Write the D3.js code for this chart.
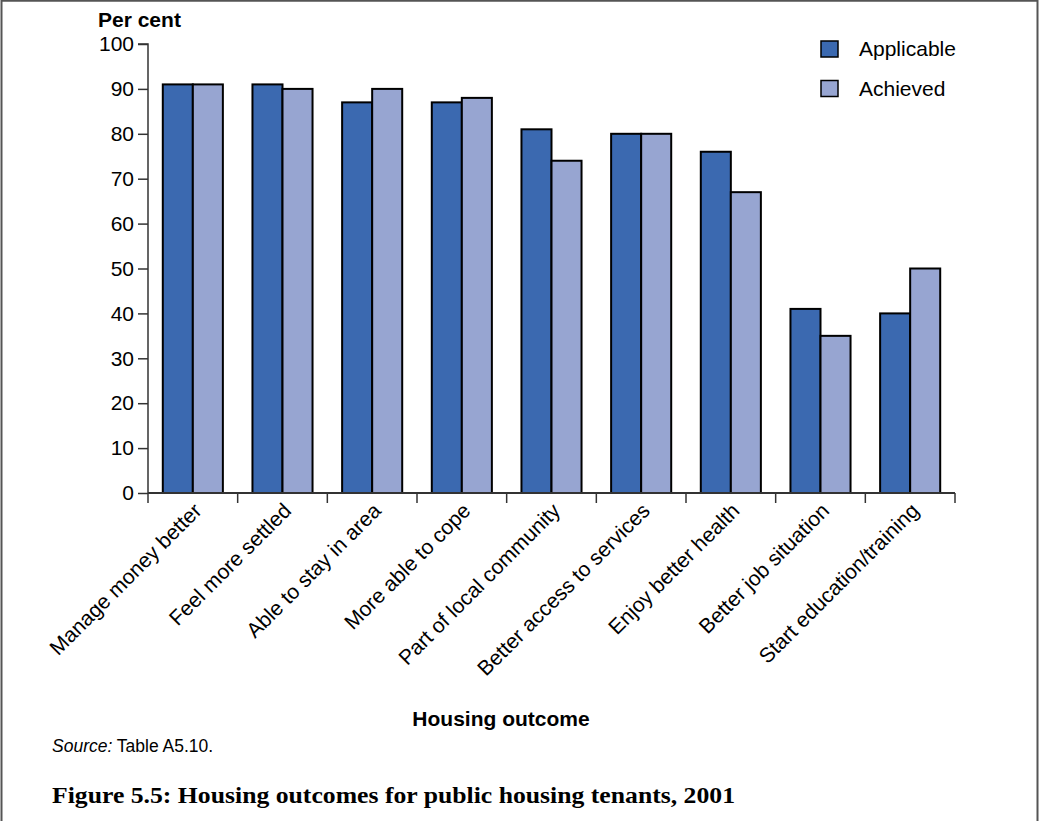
<!DOCTYPE html>
<html><head><meta charset="utf-8">
<script src="https://cdn.jsdelivr.net/npm/d3@7"></script>
<style>body{margin:0;background:#fff}svg{display:block}</style>
</head><body>
<script>
const categories = ["Manage money better","Feel more settled","Able to stay in area","More able to cope","Part of local community","Better access to services","Enjoy better health","Better job situation","Start education/training"];
const seriesNames = ["Applicable","Achieved"];
const applicable = [91,91,87,87,81,80,76,41,40];
const achieved = [91,90,90,88,74,80,67,35,50];
const yTicks = [0,10,20,30,40,50,60,70,80,90,100];
const colors = ["#3b69b0","#97a5d1"];

const W=1040,H=821;
const F="Liberation Sans, Arial, sans-serif";
const svg=d3.select("body").append("svg").attr("width",W).attr("height",H);
// frame
svg.append("path").attr("d","M1.5,821 V0.75 H1037.5 V821").attr("fill","none").attr("stroke","#555").attr("stroke-width",2);

const x0=148,x1=955,yb=493,yt=44;
const x=d3.scaleBand().domain(categories).range([x0,x1]).paddingInner(0.33).paddingOuter(0.165);
const xs=d3.scaleBand().domain(seriesNames).range([0,x.bandwidth()]);
const y=d3.scaleLinear().domain([0,100]).range([yb,yt]);

const data=categories.map((c,i)=>({c,vals:[applicable[i],achieved[i]]}));
const g=svg.append("g");
data.forEach(d=>{
  d.vals.forEach((v,j)=>{
    g.append("rect").attr("x",x(d.c)+xs(seriesNames[j])).attr("y",y(v))
     .attr("width",xs.bandwidth()).attr("height",y(0)-y(v))
     .attr("fill",colors[j]).attr("stroke","#000").attr("stroke-width",2);
  });
});

// y axis
const ya=d3.axisLeft(y).tickValues(yTicks).tickSize(10).tickPadding(4);
const yg=svg.append("g").attr("transform",`translate(${x0},0)`).call(ya);
yg.select(".domain").attr("stroke","#333").attr("stroke-width",1.5).attr("d",`M-10,${yt}H0V${yb}`);
yg.selectAll(".tick line").attr("stroke","#333").attr("stroke-width",1.5);
yg.selectAll(".tick text").attr("font-family",F).attr("font-size",21).attr("fill","#000");

// x axis
const xg=svg.append("g").attr("transform",`translate(0,${yb})`);
xg.append("line").attr("x1",x0).attr("x2",x1).attr("stroke","#333").attr("stroke-width",2);
const tickPos=categories.map(c=>x(c)-x.step()*x.paddingInner()/2);
tickPos.push(x1);
xg.selectAll(".xt").data(tickPos).enter().append("line").attr("x1",d=>d).attr("x2",d=>d).attr("y1",0).attr("y2",10).attr("stroke","#333").attr("stroke-width",1.5);
xg.selectAll(".xl").data(categories).enter().append("text")
  .attr("transform",d=>`translate(${x(d)+x.bandwidth()/2+10},${19}) rotate(-45)`)
  .attr("text-anchor","end").attr("font-family",F).attr("font-size",21).text(d=>d);

// titles
svg.append("text").attr("x",98).attr("y",27).attr("font-family",F).attr("font-weight","bold").attr("font-size",21).text("Per cent");
svg.append("text").attr("x",501).attr("y",726).attr("text-anchor","middle").attr("font-family",F).attr("font-weight","bold").attr("font-size",21).text("Housing outcome");

// legend
seriesNames.forEach((s,i)=>{
  svg.append("rect").attr("x",821).attr("y",41+i*39.5).attr("width",17).attr("height",16).attr("fill",colors[i]).attr("stroke","#000").attr("stroke-width",1.5);
  svg.append("text").attr("x",859).attr("y",56+i*39.5).attr("font-family",F).attr("font-size",21).text(s);
});

// source
const src=svg.append("text").attr("x",52).attr("y",752).attr("font-family",F).attr("font-size",17.5);
src.append("tspan").attr("font-style","italic").text("Source:");
src.append("tspan").text(" Table A5.10.");

svg.append("text").attr("x",52).attr("y",803).attr("font-family","Liberation Serif, Times New Roman, serif").attr("font-weight","bold").attr("font-size",24).attr("textLength",683).attr("lengthAdjust","spacingAndGlyphs").text("Figure 5.5: Housing outcomes for public housing tenants, 2001");
</script>
</body></html>
